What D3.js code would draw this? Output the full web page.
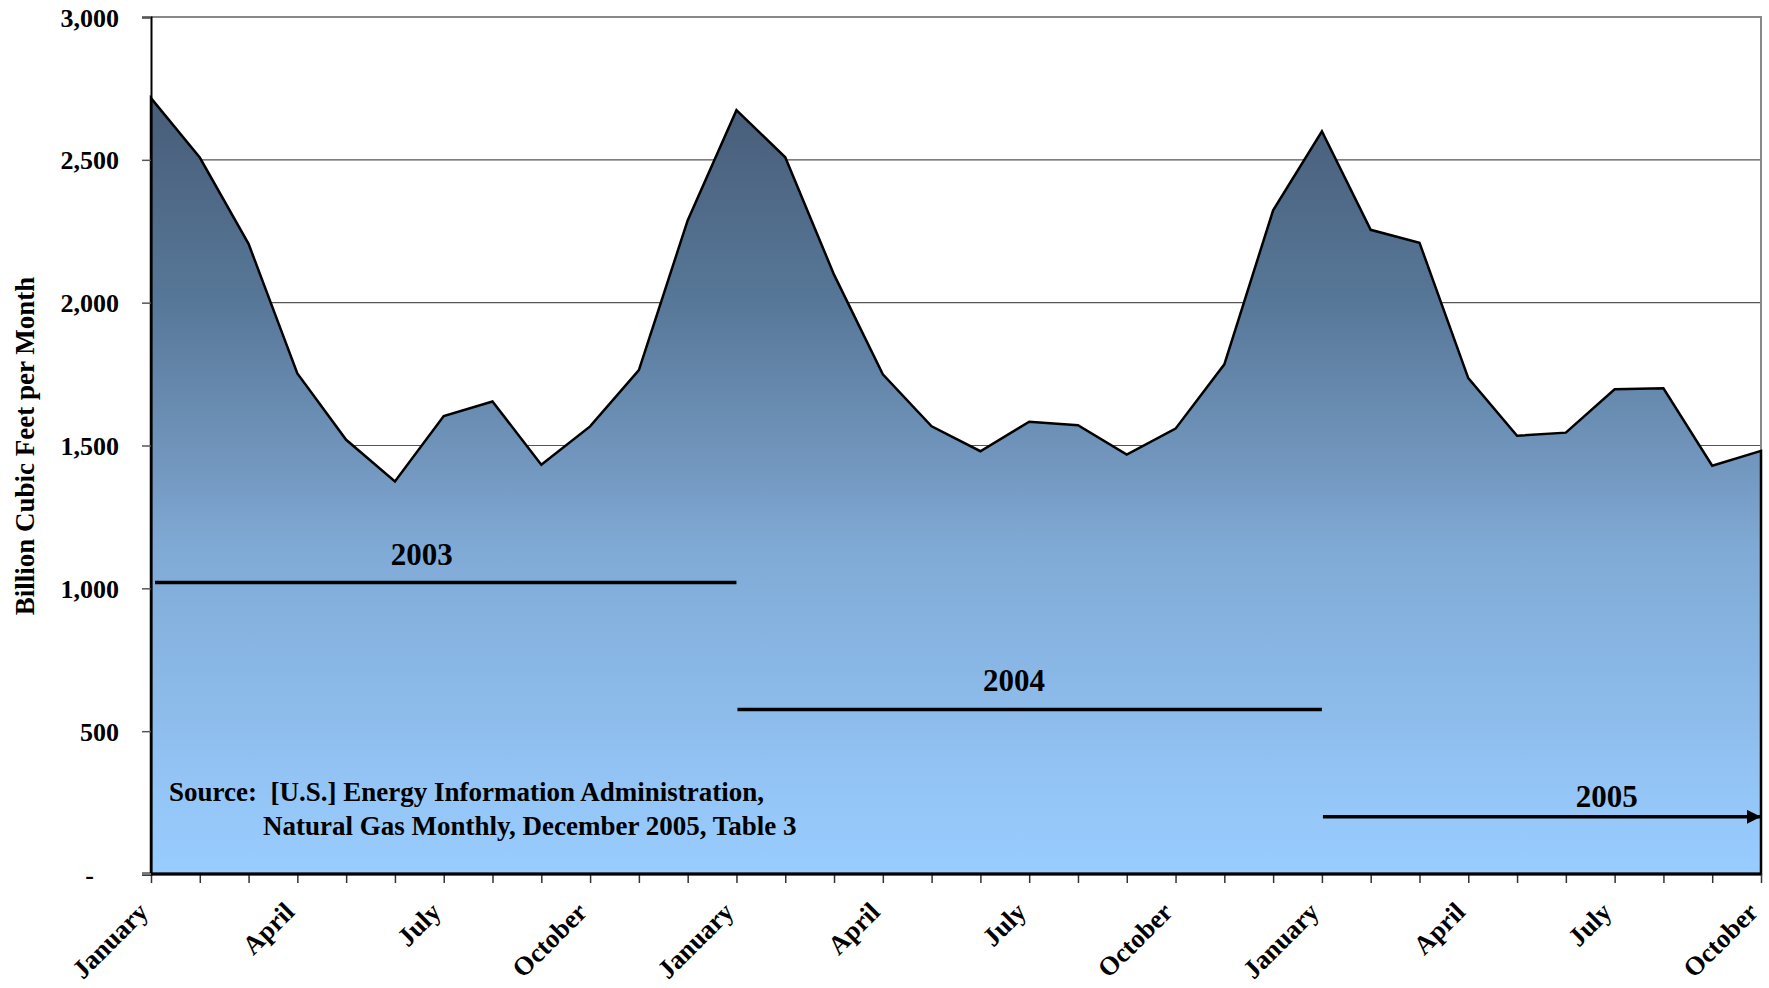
<!DOCTYPE html>
<html><head><meta charset="utf-8">
<script src="https://cdn.jsdelivr.net/npm/d3@7"></script>
<style>
body{margin:0;background:#fff}
svg text{font-family:"Liberation Serif","Times New Roman",serif;font-weight:bold;fill:#000;white-space:pre}
</style>
</head><body>
<svg id="chart" width="1769" height="988"></svg>
<script>
// ---- data ----
const years = ["2003", "2004", "2005"];
const monthNames = ["January","February","March","April","May","June","July","August","September","October","November","December"];
const values2003 = [2716, 2508, 2206, 1752, 1520, 1374, 1603, 1654, 1433, 1567, 1764, 2288];
const values2004 = [2674, 2509, 2098, 1749, 1567, 1480, 1583, 1571, 1468, 1559, 1784, 2323];
const values2005 = [2600, 2255, 2210, 1736, 1534, 1545, 1697, 1700, 1429, 1481];
const yTickValues = [0, 500, 1000, 1500, 2000, 2500, 3000];
const xTickLabels = ["January", "April", "July", "October"];
const yearSpans = [ // label, start month index, end month index, level (bcf), label position (month index)
  {label: "2003", start: 0, end: 12, level: 1020, labelAt: 5.55, arrow: false},
  {label: "2004", start: 12, end: 24, level: 576, labelAt: 17.69, arrow: false},
  {label: "2005", start: 24, end: 33, level: 200, labelAt: 29.84, arrow: true}
];
const yTitle = "Billion Cubic Feet per Month";
const sourceLines = ["Source:  [U.S.] Energy Information Administration,", "Natural Gas Monthly, December 2005, Table 3"];

// ---- build series ----
const allValues = [...values2003, ...values2004, ...values2005];
const categories = [];
years.forEach((yr, yi) => {
  const n = [values2003, values2004, values2005][yi].length;
  for (let m = 0; m < n; m++) categories.push(monthNames[m] + " " + yr);
});
const series = categories.map((c, i) => ({cat: c, month: c.split(" ")[0], i, v: allValues[i]}));

// ---- layout ----
const svg = d3.select("#chart");
const L = 151, R = 1761, T = 17, B = 874;
const x = d3.scalePoint().domain(d3.range(categories.length)).range([L, R]);
const xc = d3.scaleLinear().domain([0, categories.length - 1]).range([L, R]);
const y = d3.scaleLinear().domain([0, 3000]).range([B, T]);

// gradient
const defs = svg.append("defs");
const grad = defs.append("linearGradient").attr("id", "fillGrad")
  .attr("gradientUnits", "userSpaceOnUse")
  .attr("x1", 0).attr("x2", 0)
  .attr("y1", y(d3.max(allValues))).attr("y2", y(0));
[[0, "#485d78"], [0.26, "#577798"], [0.454, "#7094bb"], [0.583, "#80aad6"], [0.906, "#94c6f7"], [1, "#99ccff"]]
  .forEach(([o, c]) => grad.append("stop").attr("offset", o).attr("stop-color", c));

// gridlines
svg.append("g").selectAll("line").data(yTickValues.filter(v => v > 0 && v < 3000)).join("line")
  .attr("x1", L).attr("x2", R).attr("y1", d => y(d)).attr("y2", d => y(d))
  .attr("stroke", "#555").attr("stroke-width", 1.2);

// plot border (top, right)
svg.append("path").attr("d", `M${L},${y(3000)}H${R}V${B}`)
  .attr("fill", "none").attr("stroke", "#888").attr("stroke-width", 2);

// area
const area = d3.area().x(d => x(d.i)).y0(y(0)).y1(d => y(d.v));
svg.append("path").datum(series).attr("d", area)
  .attr("fill", "url(#fillGrad)").attr("stroke", "#000").attr("stroke-width", 2.5)
  .attr("stroke-linejoin", "miter");

// y axis
const yAxis = d3.axisLeft(y).tickValues(yTickValues).tickSize(9).tickPadding(0)
  .tickFormat(d => d === 0 ? "-" : d3.format(",")(d));
const yg = svg.append("g").attr("transform", `translate(${L},0)`).call(yAxis);
yg.select(".domain").attr("stroke", "#000").attr("stroke-width", 2);
yg.selectAll(".tick line").attr("stroke", "#555").attr("stroke-width", 1.5);
yg.selectAll(".tick text").attr("x", d => d === 0 ? -57 : -32).attr("dy", "0.35em")
  .attr("font-size", 26).attr("text-anchor", "end");

// x axis
const xAxis = d3.axisBottom(x).tickSize(9).tickFormat(() => "");
const xg = svg.append("g").attr("transform", `translate(0,${B})`).call(xAxis);
xg.select(".domain").remove();
xg.selectAll(".tick line").attr("stroke", "#333").attr("stroke-width", 1.5);
svg.append("line").attr("x1", L - 9).attr("x2", R).attr("y1", B).attr("y2", B)
  .attr("stroke", "#000").attr("stroke-width", 3);
svg.append("line").attr("x1", L - 9).attr("x2", L).attr("y1", B).attr("y2", B)
  .attr("stroke", "#777").attr("stroke-width", 2);

// x labels
svg.append("g").selectAll("text").data(series.filter(d => xTickLabels.includes(d.month))).join("text")
  .attr("transform", d => `translate(${x(d.i) - 8},${B + 33}) rotate(-45)`)
  .attr("text-anchor", "end").attr("dy", "0.35em").attr("font-size", 26.5)
  .text(d => d.month);

// y title
svg.append("text").attr("transform", `translate(34,446) rotate(-90)`)
  .attr("text-anchor", "middle").attr("font-size", 27).text(yTitle);

// year spans
defs.append("marker").attr("id", "arrow").attr("viewBox", "0 0 10 10")
  .attr("refX", 10).attr("refY", 5).attr("markerWidth", 4).attr("markerHeight", 4)
  .attr("markerUnits", "strokeWidth").attr("orient", "auto")
  .append("path").attr("d", "M0,0L10,5L0,10Z").attr("fill", "#000");
const sp = svg.append("g");
yearSpans.forEach(s => {
  sp.append("line")
    .attr("x1", x(s.start) + (s.start === 0 ? 4 : 1)).attr("x2", x(s.end))
    .attr("y1", y(s.level)).attr("y2", y(s.level))
    .attr("stroke", "#000").attr("stroke-width", 3.5)
    .attr("marker-end", s.arrow ? "url(#arrow)" : null);
  sp.append("text").attr("x", xc(s.labelAt)).attr("y", y(s.level) - (s.arrow ? 10 : 18))
    .attr("text-anchor", "middle").attr("font-size", 31).text(s.label);
});

// source note
const src = svg.append("text").attr("font-size", 27);
src.append("tspan").attr("x", 169).attr("y", 801).text(sourceLines[0]);
src.append("tspan").attr("x", 263).attr("y", 835).text(sourceLines[1]);
</script>
</body></html>
